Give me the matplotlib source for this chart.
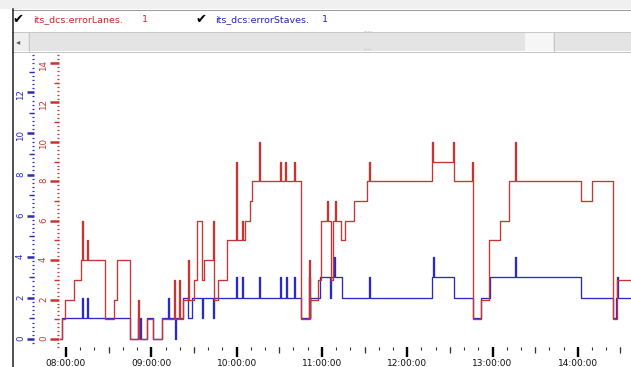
import numpy as np
import matplotlib
matplotlib.use("Agg")
import matplotlib.pyplot as plt
from matplotlib.patches import Rectangle
from matplotlib.lines import Line2D
from matplotlib.ticker import FixedLocator, MultipleLocator, FuncFormatter

# ---------------------------------------------------------------------------
# Trend data, time in minutes after 08:00:00
# ---------------------------------------------------------------------------
# its_dcs:errorLanes  (level changes)
lanes_t = [-4.5, -2.8, -0.7, 5.6, 10.6, 27.2, 33.5, 35.9, 45.0, 57.0, 61.2, 67.5,
           82.3, 90.0, 92.1, 95.7, 97.1, 104.2, 106.9, 113.3, 125.9, 129.4, 130.8,
           165.3, 171.8, 177.3, 179.4, 186.4, 187.8, 193.4, 196.2, 202.6, 211.7,
           257.4, 272.9, 286.3, 291.9, 297.5, 305.3, 311.6, 362.3, 370.0, 384.8, 387.6]
lanes_v = [0, 1, 2, 3, 4, 1, 2, 4, 0, 1, 0, 1,
           2, 3, 6, 3, 4, 2, 3, 5, 6, 7, 8,
           1, 2, 3, 6, 3, 6, 5, 6, 7, 8,
           9, 8, 1, 2, 5, 6, 8, 7, 8, 1, 3]
# short-lived peaks of errorLanes
lanes_spike_t = [11.3, 14.8, 50.6, 76.0, 79.5, 85.8, 103.4, 119.6, 123.8, 135.8,
                 150.5, 154.0, 160.4, 171.0, 183.6, 189.2, 213.1, 257.6, 272.1,
                 285.5, 315.8]
lanes_spike_v = [6, 5, 2, 3, 3, 4, 6, 9, 6, 10,
                 9, 9, 9, 4, 7, 7, 9, 10, 10,
                 9, 10]

# its_dcs:errorStaves  (level changes)
staves_t = [-4.5, -2.8, 45.0, 57.0, 61.2, 67.5, 82.3, 85.8, 88.6, 165.3, 171.8,
            178.7, 194.1, 257.4, 272.9, 286.3, 291.9, 298.2, 362.3, 384.8, 387.2]
staves_v = [0, 1, 0, 1, 0, 1, 2, 1, 2, 1, 2,
            3, 2, 3, 2, 1, 2, 3, 2, 1, 2]
# short-lived peaks / dips of errorStaves
staves_spike_t = [11.3, 14.8, 50.6, 52.3, 71.7, 76.5, 95.7, 103.4, 119.6, 123.8,
                  135.8, 150.5, 154.4, 160.4, 171.0, 185.7, 188.5, 213.1, 257.8,
                  315.8, 387.8]
staves_spike_v = [2, 2, 1, 1, 2, 0, 1, 1, 3, 3,
                  3, 3, 3, 3, 3, 2, 4, 3, 4,
                  4, 3]

end_t = 400.0                       # last sample time (minutes)
hour_ticks = list(range(0, 400, 60))  # 08:00 ... 14:00
half_hour_ticks = list(range(30, 400, 60))

# ---------------------------------------------------------------------------
# Layout (pixels of a 631 x 367 canvas)
# ---------------------------------------------------------------------------
W, H, DPI = 631, 367, 100
PX = 72.0 / DPI                     # points per pixel
L, R, T, B = 60, 631, 52, 347       # plot area
Y0 = 339                            # pixel row of value 0
BLUE_PPU, RED_PPU = 20.56, 19.71    # pixels per unit on each scale
X08, PPH = 66, 85.3                 # 08:00 position, pixels per hour

RED = "#c63434"
BLUE = "#2a2ac4"
RED_TXT = "#c82828"
BLUE_TXT = "#2424b0"


def step_series(t, v, st, sv, t_end, w=0.7):
    """Merge level changes and brief peaks into one post-step polyline."""
    t = np.asarray(t, float)
    v = np.asarray(v, float)
    pts = [(a, b, 0) for a, b in zip(t, v)]
    for a, b in zip(st, sv):
        base = v[np.searchsorted(t, a, side="right") - 1]
        pts += [(a, b, 1), (a + w, base, 2)]
    pts.sort(key=lambda p: (p[0], p[2]))
    xs = [p[0] for p in pts] + [t_end]
    ys = [p[1] for p in pts] + [pts[-1][1]]
    return xs, ys


fig = plt.figure(figsize=(W / DPI, H / DPI), dpi=DPI)
fig.patch.set_facecolor("white")


def fx(x):
    return x / W


def fy(y):
    return 1 - y / H


def rect(x0, y0, x1, y1, color, z=0):
    fig.add_artist(Rectangle((fx(x0), fy(y1)), (x1 - x0) / W, (y1 - y0) / H,
                             transform=fig.transFigure, facecolor=color,
                             edgecolor="none", zorder=z))


def hline(y, x0, x1, color, lw=1.0, z=1):
    fig.add_artist(Line2D([fx(x0), fx(x1)], [fy(y), fy(y)], transform=fig.transFigure,
                          color=color, lw=lw * PX, zorder=z))


def vline(x, y0, y1, color, lw=1.0, z=1):
    fig.add_artist(Line2D([fx(x), fx(x)], [fy(y0), fy(y1)], transform=fig.transFigure,
                          color=color, lw=lw * PX, zorder=z))


# window chrome: header with check boxes and a scroll bar
rect(0, 0, W, 9, "#f0f0f0")
hline(9.5, 12, W, "#9c9c9c")
hline(31.5, 12, W, "#c8c8c8")
rect(13, 32, W, 51, "#e4e4e4")
rect(13, 32, 28, 51, "#efefef")
vline(28.5, 32, 51, "#c8c8c8")
rect(525, 32, 553, 51, "#f6f6f6")
vline(553.5, 32, 51, "#c8c8c8")
hline(51.5, 12, W, "#c4c4c4")
vline(12.5, 9, H, "#1a1a1a", lw=1.5)
fig.text(fx(18), fy(41.5), "\u25c2", color="#5a5a5a", fontsize=6, ha="center", va="center")
fig.text(fx(368), fy(31), "......", color="#a0a0a0", fontsize=3.5, ha="center", va="center")
fig.text(fx(368), fy(48), "......", color="#a0a0a0", fontsize=3.5, ha="center", va="center")

fig.text(fx(18), fy(19), "\u2714", color="black", fontsize=9.5, ha="center", va="center")
fig.text(fx(33), fy(19.5), "its_dcs:errorLanes.", color=RED_TXT, fontsize=6.8, va="center")
fig.text(fx(145), fy(19.5), "1", color=RED_TXT, fontsize=6.8, ha="center", va="center")
fig.text(fx(201), fy(19), "\u2714", color="black", fontsize=9.5, ha="center", va="center")
fig.text(fx(215), fy(19.5), "its_dcs:errorStaves.", color=BLUE_TXT, fontsize=6.8, va="center")
fig.text(fx(325), fy(19.5), "1", color=BLUE_TXT, fontsize=6.8, ha="center", va="center")

# plot area
ax = fig.add_axes([fx(L), fy(B), (R - L) / W, (B - T) / H])
ax.patch.set_facecolor("white")
ax.set_xlim((L - X08) / PPH * 60, (R - X08) / PPH * 60)
ax.set_ylim(-(B - Y0) / BLUE_PPU, (Y0 - T) / BLUE_PPU)
ax_r = ax.twinx()
ax_r.set_ylim(-(B - Y0) / RED_PPU, (Y0 - T) / RED_PPU)
for a in (ax, ax_r):
    for s in a.spines.values():
        s.set_visible(False)

# traces
sx, sy = step_series(staves_t, staves_v, staves_spike_t, staves_spike_v, end_t)
ax.step(sx, sy, where="post", color=BLUE, lw=0.95, zorder=3)
lx, ly = step_series(lanes_t, lanes_v, lanes_spike_t, lanes_spike_v, end_t)
ax_r.step(lx, ly, where="post", color=RED, lw=0.95, zorder=3)

# blue value scale (outer)
ax.spines["left"].set_position(("outward", (L - 34) * PX))
ax.yaxis.set_major_locator(FixedLocator(range(0, 15, 2)))
ax.yaxis.set_minor_locator(MultipleLocator(0.2))
ax.tick_params(axis="y", which="major", direction="out", length=7 * PX, width=1.8,
               color=BLUE, labelcolor=BLUE, labelsize=6.2, labelrotation=90, pad=1.5)
ax.tick_params(axis="y", which="minor", direction="out", length=2 * PX, width=0.9,
               color=BLUE)
odd_b = ax.secondary_yaxis((34 - L) / (R - L))
odd_b.set_yticks(range(1, 15, 2))
odd_b.tick_params(axis="y", length=5 * PX, width=1.0, color=BLUE, labelleft=False)
for s in odd_b.spines.values():
    s.set_visible(False)

# red value scale (inner)
ax_r.yaxis.tick_left()
ax_r.spines["left"].set_position(("outward", 1 * PX))
ax_r.yaxis.set_major_locator(FixedLocator(range(0, 15, 2)))
ax_r.yaxis.set_minor_locator(MultipleLocator(0.2))
ax_r.tick_params(axis="y", which="both", left=True, right=False,
                 labelleft=True, labelright=False)
ax_r.tick_params(axis="y", which="major", direction="out", length=9 * PX, width=1.8,
                 color=RED, labelcolor=RED, labelsize=6.2, labelrotation=90, pad=1.5)
ax_r.tick_params(axis="y", which="minor", direction="out", length=2 * PX, width=0.9,
                 color=RED)
odd_r = ax_r.secondary_yaxis((59 - L) / (R - L))
odd_r.set_yticks(range(1, 15, 2))
odd_r.tick_params(axis="y", length=5 * PX, width=1.0, color=RED, labelleft=False)
for s in odd_r.spines.values():
    s.set_visible(False)

# time scale
ax.xaxis.set_major_locator(FixedLocator(hour_ticks))
ax.xaxis.set_minor_locator(MultipleLocator(10))
ax.xaxis.set_major_formatter(
    FuncFormatter(lambda m, _: f"{8 + int(round(m)) // 60:02d}:{int(round(m)) % 60:02d}:00"))
ax.tick_params(axis="x", which="major", direction="out", length=10 * PX, width=1.7,
               color="black", labelsize=6.5, pad=1.2, labelcolor="#111111")
ax.tick_params(axis="x", which="minor", direction="out", length=3 * PX, width=0.8,
               color="#333333")
half = ax.secondary_xaxis("bottom")
half.set_xticks(half_hour_ticks)
half.tick_params(axis="x", length=6 * PX, width=0.9, color="#333333", labelbottom=False)
for s in half.spines.values():
    s.set_visible(False)

fig.savefig("out.png", dpi=DPI, facecolor="white")
